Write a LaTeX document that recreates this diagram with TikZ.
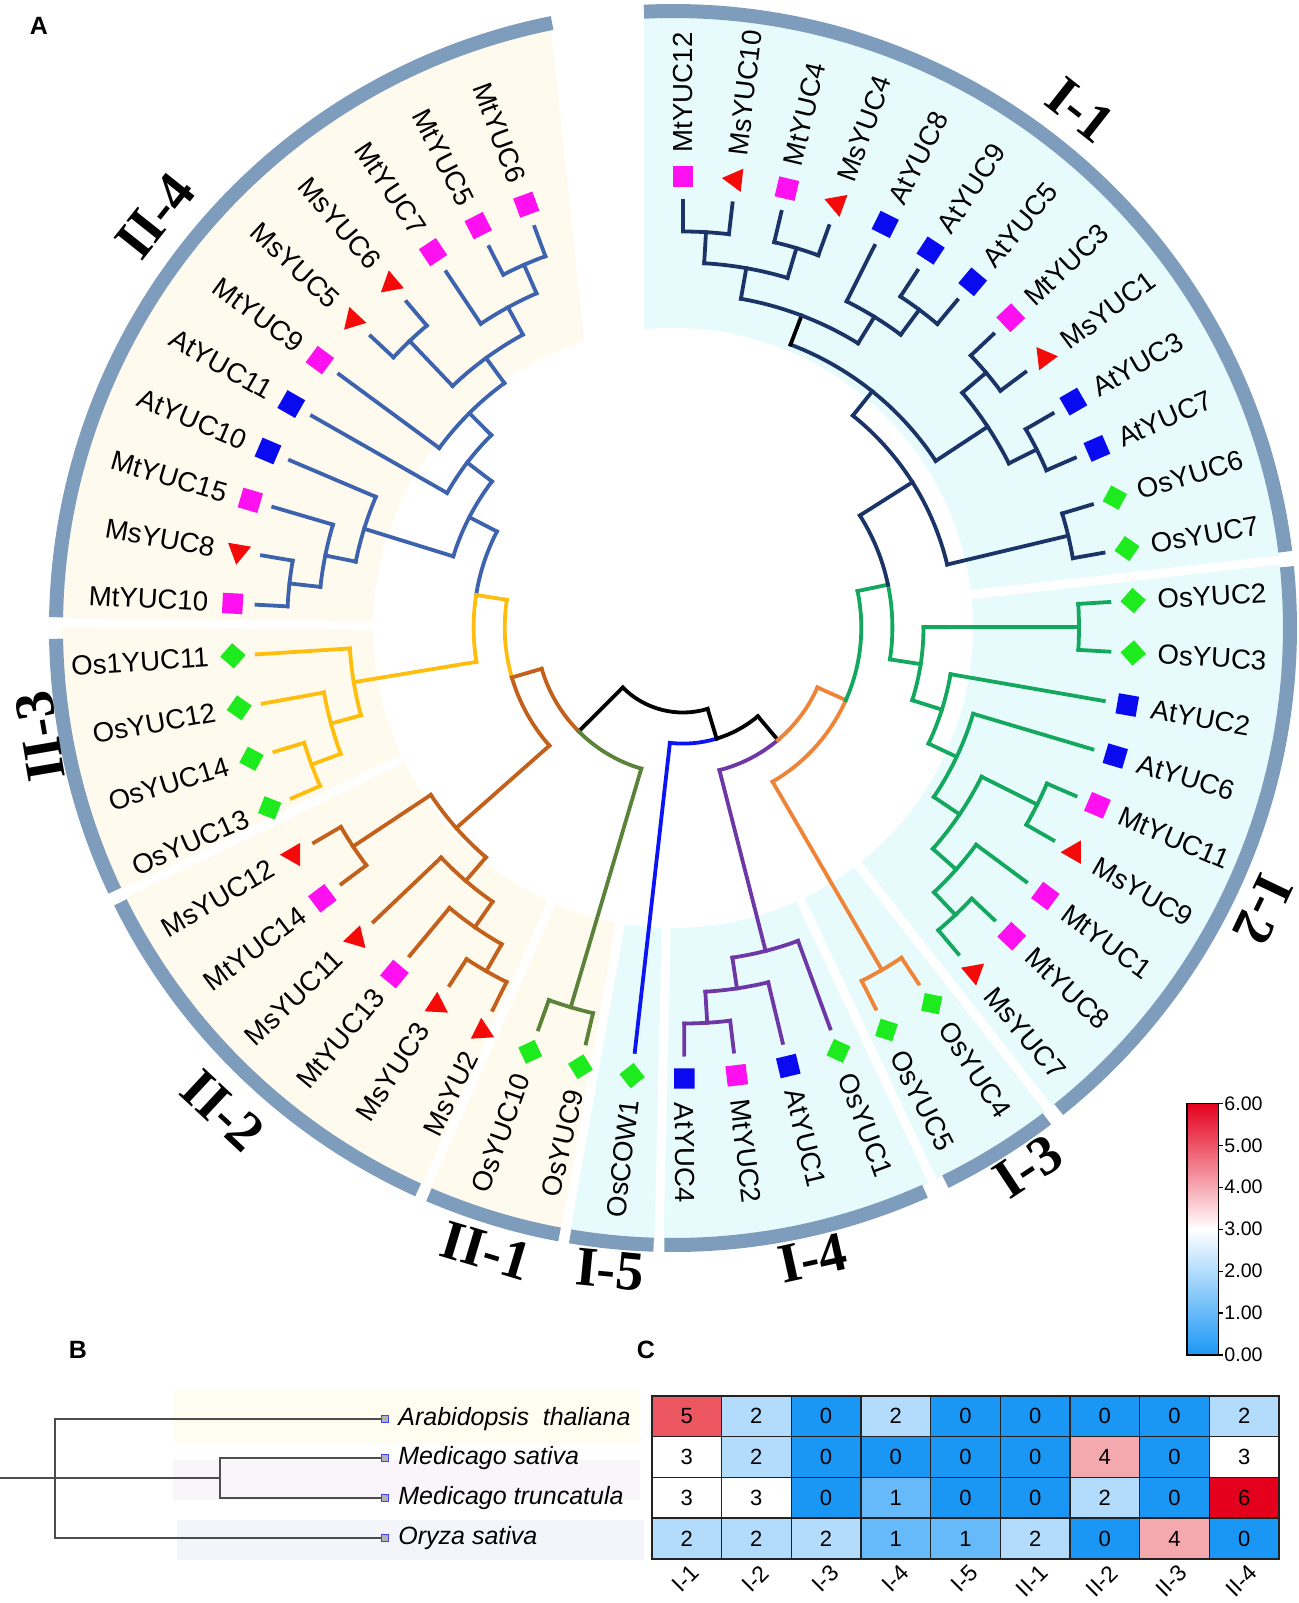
\documentclass[tikz,border=0pt]{standalone}
\usepackage{fontspec}
\setmainfont{Liberation Sans}
\newfontfamily\cladeserif{Liberation Serif}
\usetikzlibrary{shapes.geometric}

% clade colours
\definecolor{col11}{HTML}{1B3468}
\definecolor{col12}{HTML}{14A85E}
\definecolor{col13}{HTML}{EE8437}
\definecolor{col14}{HTML}{6E37A6}
\definecolor{col15}{HTML}{0A14F5}
\definecolor{col21}{HTML}{5A8238}
\definecolor{col22}{HTML}{C2601C}
\definecolor{col23}{HTML}{FFBE0D}
\definecolor{col24}{HTML}{3D62AE}
\definecolor{bgI}{HTML}{E8FBFC}
\definecolor{bgII}{HTML}{FFFAEE}
\definecolor{ringc}{HTML}{7E9CBB}
% markers
\definecolor{mtcol}{HTML}{FF10F0}
\definecolor{atcol}{HTML}{0A0AF0}
\definecolor{oscol}{HTML}{1EEB1E}
\definecolor{mscol}{HTML}{F50A0A}
% heatmap
\definecolor{hm0}{HTML}{1A97F5}
\definecolor{hm1}{HTML}{66BAF9}
\definecolor{hm2}{HTML}{B3DCFC}
\definecolor{hm3}{HTML}{FFFFFF}
\definecolor{hm4}{HTML}{F4A9AF}
\definecolor{hm5}{HTML}{EB5661}
\definecolor{hm6}{HTML}{E4001D}
\definecolor{hmline}{HTML}{222222}
\definecolor{sptree}{HTML}{4D4D4D}
\definecolor{bandAt}{HTML}{FFFDF0}
\definecolor{bandMed}{HTML}{F9F5FB}
\definecolor{bandOs}{HTML}{F4F5FA}

\tikzstyle{branch} = [line width=1.9pt, line cap=rect]
\tikzstyle{ringseg} = [ringc, line width=7pt]
\tikzstyle{gapline} = [white, line width=4.5pt]
\tikzstyle{mk} = [inner sep=0pt, outer sep=0pt]
\tikzstyle{mtm} = [mk, rectangle, fill=mtcol, minimum size=10.2pt]
\tikzstyle{atm} = [mk, rectangle, fill=atcol, minimum size=10.2pt]
\tikzstyle{osm} = [mk, rectangle, fill=oscol, minimum size=9pt, rotate=45]
\tikzstyle{msm} = [mk, regular polygon, regular polygon sides=3, fill=mscol, minimum size=13.5pt]
\tikzstyle{leaflab} = [inner sep=0pt, font=\fontsize{13.8}{16}\selectfont]
\tikzstyle{cladelab} = [inner sep=0pt, font=\cladeserif\bfseries\fontsize{28}{30}\selectfont]
\tikzstyle{panellab} = [inner sep=0pt, font=\bfseries\fontsize{12.5}{14}\selectfont]
\tikzstyle{splab} = [inner sep=0pt, font=\itshape\fontsize{12.5}{14}\selectfont]
\tikzstyle{sptip} = [draw=blue!75, fill=gray!60, line width=0.5pt, minimum size=3.4pt, inner sep=0pt]
\tikzstyle{hmnum} = [inner sep=0pt, font=\fontsize{11}{12}\selectfont]
\tikzstyle{collab} = [inner sep=0pt, font=\fontsize{11.5}{12}\selectfont]
\tikzstyle{cbl} = [inner sep=0pt, font=\fontsize{9.8}{11}\selectfont]

% radius of a tree level (tips at level 11)
\newcommand{\lvl}[1]{85+31.1*#1}
\newcommand{\brstem}[4]{\draw[branch,#1] (#2:{\lvl{#3}}) -- (#2:{\lvl{#4}});}
\newcommand{\brarc}[4]{\draw[branch,#1] (#2:{\lvl{#4}}) arc[start angle=#2, end angle=#3, radius={(\lvl{#4})*0.5pt}];}
% colour, parent level, level, angle, first child angle, last child angle
\newcommand{\brnode}[6]{\brstem{#1}{#4}{#2}{#3}\brarc{#1}{#5}{#6}{#3}}
% colour, parent level, angle
\newcommand{\brleaf}[3]{\brstem{#1}{#3}{#2}{11}}

\begin{document}
\begin{tikzpicture}[x=0.5pt, y=0.5pt]
\useasboundingbox (0,0) rectangle (1299,-1603);

\node[panellab] (pA) at (39,-26) {A};

% backgrounds, ring and clade names
\begin{scope}[shift={(673,-628)}]
  \fill[bgI] (92.72:611) arc[start angle=92.72, end angle=6.4, radius=305.5pt] -- (6.4:300)
    arc[start angle=6.4, end angle=95.55, radius=150pt] -- cycle;
  \fill[bgI] (6.4:611) arc[start angle=6.4, end angle=-100.1, radius=305.5pt] -- (-100.1:300)
    arc[start angle=-100.1, end angle=6.4, radius=150pt] -- cycle;
  \fill[bgII] (-100.1:611) arc[start angle=-100.1, end angle=-180.5, radius=305.5pt] -- (-180.5:300)
    arc[start angle=-180.5, end angle=-100.1, radius=150pt] -- cycle;
  \fill[bgII] (101.5:611) arc[start angle=101.5, end angle=179.5, radius=305.5pt] -- (179.5:300)
    arc[start angle=179.5, end angle=107.2, radius=150pt] -- cycle;
  \foreach \g in {6.4,-52,-64.85,-91.3,-100.1,-113.85,-154.2,-180.5}
    \draw[gapline] (\g:296) -- (\g:613);
  \foreach \a/\b in {92.7/7.1, 5.7/-51.3, -52.7/-63.8, -65.9/-90.8, -91.8/-99.6,
      -100.6/-113.3, -114.4/-153.6, -154.8/-179.0, -181.0/-258.7}
    \draw[ringseg] (\a:617) arc[start angle=\a, end angle=\b, radius=308.5pt];
  \node[cladelab, rotate=-38.2] (kI1) at (51.8:659) {I-1};
  \node[cladelab, rotate=-115.5] (kI2) at (-25.5:654) {I-2};
  \node[cladelab, rotate=33.4] (kI3) at (-56.6:645) {I-3};
  \node[cladelab, rotate=12.5] (kI4) at (-77.5:645) {I-4};
  \node[cladelab, rotate=-5.6] (kI5) at (-95.6:645) {I-5};
  \node[cladelab, rotate=-16.7] (kII1) at (-106.7:650) {II-1};
  \node[cladelab, rotate=-43] (kII2) at (-133:660) {II-2};
  \node[cladelab, rotate=99.7] (kII3) at (189.7:642) {II-3};
  \node[cladelab, rotate=51.5] (kII4) at (141.5:662) {II-4};
\end{scope}

% tree
\begin{scope}[shift={(683,-627.5)}]
  % root and backbone
  \brarc{black}{-135.1}{-73.165}{0}
  \brstem{black}{-135.1}{0}{2}
  \brarc{col22}{-163.73}{-135.1}{2}
  \brarc{col21}{-135.1}{-106.47}{2}
  \brstem{col22}{-163.73}{2}{3}
  \brarc{col23}{-188.935}{-163.73}{3}
  \brarc{col22}{-163.73}{-138.52}{3}
  \brstem{col23}{-188.935}{3}{4}
  \brarc{col24}{-207.3}{-188.935}{4}
  \brarc{col23}{-188.935}{-170.57}{4}
  \brstem{black}{-73.165}{0}{1}
  \brarc{col15}{-96.48}{-73.165}{1}
  \brarc{black}{-73.165}{-49.85}{1}
  \brleaf{col15}{1}{-96.48}
  \brstem{black}{-49.85}{1}{2}
  \brarc{col14}{-75.67}{-49.85}{2}
  \brarc{col13}{-49.85}{-24.03}{2}
  \brstem{col13}{-24.03}{2}{3}
  \brarc{col13}{-59.85}{-24.03}{3}
  \brarc{col12}{-24.03}{11.80}{3}
  \brstem{col12}{11.80}{3}{4}
  \brarc{col12}{-8.755}{11.80}{4}
  \brarc{col11}{11.80}{32.35}{4}
  % I-1
  \brnode{col11}{4}{6}{32.35}{51.29}{13.41}
  \brnode{col11}{6}{7}{51.29}{69.19}{33.39}
  \brstem{black}{69.19}{7}{8}
  \brarc{col11}{80.01}{58.365}{8}
  \brnode{col11}{8}{9}{80.01}{86.67}{73.35}
  \brnode{col11}{9}{10}{86.67}{90}{83.34}
  \brleaf{col11}{10}{90} \brleaf{col11}{10}{83.34}
  \brnode{col11}{9}{10}{73.35}{76.68}{70.02}
  \brleaf{col11}{10}{76.68} \brleaf{col11}{10}{70.02}
  \brnode{col11}{8}{9}{58.365}{63.36}{53.37}
  \brleaf{col11}{9}{63.36}
  \brnode{col11}{9}{10}{53.37}{56.70}{50.04}
  \brleaf{col11}{10}{56.70} \brleaf{col11}{10}{50.04}
  \brnode{col11}{7}{9}{33.39}{40.05}{26.73}
  \brnode{col11}{9}{10}{40.05}{43.38}{36.72}
  \brleaf{col11}{10}{43.38} \brleaf{col11}{10}{36.72}
  \brnode{col11}{9}{10}{26.73}{30.06}{23.40}
  \brleaf{col11}{10}{30.06} \brleaf{col11}{10}{23.40}
  \brnode{col11}{6}{10}{13.41}{16.74}{10.08}
  \brleaf{col11}{10}{16.74} \brleaf{col11}{10}{10.08}
  % I-2
  \brnode{col12}{4}{5}{-8.755}{0.09}{-17.6}
  \brnode{col12}{5}{10}{0.09}{3.42}{-3.24}
  \brleaf{col12}{10}{3.42} \brleaf{col12}{10}{-3.24}
  \brnode{col12}{5}{6}{-17.6}{-9.90}{-25.3}
  \brleaf{col12}{6}{-9.90}
  \brnode{col12}{6}{7}{-25.3}{-16.56}{-34.04}
  \brleaf{col12}{7}{-16.56}
  \brnode{col12}{7}{8}{-34.04}{-26.55}{-41.535}
  \brnode{col12}{8}{10}{-26.55}{-23.22}{-29.88}
  \brleaf{col12}{10}{-23.22} \brleaf{col12}{10}{-29.88}
  \brnode{col12}{8}{9}{-41.535}{-36.54}{-46.53}
  \brleaf{col12}{9}{-36.54}
  \brnode{col12}{9}{10}{-46.53}{-43.20}{-49.86}
  \brleaf{col12}{10}{-43.20} \brleaf{col12}{10}{-49.86}
  % I-3
  \brnode{col13}{3}{10}{-59.85}{-56.52}{-63.18}
  \brleaf{col13}{10}{-56.52} \brleaf{col13}{10}{-63.18}
  % I-4
  \brnode{col14}{2}{8}{-75.67}{-69.84}{-81.495}
  \brleaf{col14}{8}{-69.84}
  \brnode{col14}{8}{9}{-81.495}{-76.50}{-86.49}
  \brleaf{col14}{9}{-76.50}
  \brnode{col14}{9}{10}{-86.49}{-83.16}{-89.82}
  \brleaf{col14}{10}{-83.16} \brleaf{col14}{10}{-89.82}
  % II-1
  \brnode{col21}{2}{10}{-106.47}{-103.14}{-109.80}
  \brleaf{col21}{10}{-103.14} \brleaf{col21}{10}{-109.80}
  % II-2
  \brnode{col22}{3}{7}{-138.52}{-130.61}{-146.43}
  \brnode{col22}{7}{10}{-146.43}{-143.10}{-149.76}
  \brleaf{col22}{10}{-143.10} \brleaf{col22}{10}{-149.76}
  \brnode{col22}{7}{8}{-130.61}{-124.785}{-136.44}
  \brleaf{col22}{8}{-136.44}
  \brnode{col22}{8}{9}{-124.785}{-119.79}{-129.78}
  \brleaf{col22}{9}{-129.78}
  \brnode{col22}{9}{10}{-119.79}{-116.46}{-123.12}
  \brleaf{col22}{10}{-116.46} \brleaf{col22}{10}{-123.12}
  % II-3
  \brnode{col23}{4}{8}{-170.57}{-164.745}{-176.40}
  \brleaf{col23}{8}{-176.40}
  \brnode{col23}{8}{9}{-164.745}{-159.75}{-169.74}
  \brleaf{col23}{9}{-169.74}
  \brnode{col23}{9}{10}{-159.75}{-156.42}{-163.08}
  \brleaf{col23}{10}{-156.42} \brleaf{col23}{10}{-163.08}
  % II-4
  \brnode{col24}{4}{5}{-207.3}{-197.21}{-217.4}
  \brnode{col24}{5}{8}{-197.21}{-191.385}{-203.04}
  \brleaf{col24}{8}{-203.04}
  \brnode{col24}{8}{9}{-191.385}{-186.39}{-196.38}
  \brleaf{col24}{9}{-196.38}
  \brnode{col24}{9}{10}{-186.39}{-183.06}{-189.72}
  \brleaf{col24}{10}{-183.06} \brleaf{col24}{10}{-189.72}
  \brnode{col24}{5}{6}{-217.4}{-209.70}{-225.1}
  \brleaf{col24}{6}{-209.70}
  \brnode{col24}{6}{7}{-225.1}{-216.36}{-233.84}
  \brleaf{col24}{7}{-216.36}
  \brnode{col24}{7}{8}{-233.84}{-226.35}{-241.335}
  \brnode{col24}{8}{10}{-226.35}{-223.02}{-229.68}
  \brleaf{col24}{10}{-223.02} \brleaf{col24}{10}{-229.68}
  \brnode{col24}{8}{9}{-241.335}{-236.34}{-246.33}
  \brleaf{col24}{9}{-236.34}
  \brnode{col24}{9}{10}{-246.33}{-243.00}{-249.66}
  \brleaf{col24}{10}{-243.00} \brleaf{col24}{10}{-249.66}

  % leaf markers and names
  \foreach \nm/\ty [count=\i from 0] in {MtYUC12/mtm, MsYUC10/msm, MtYUC4/mtm, MsYUC4/msm,
      AtYUC8/atm, AtYUC9/atm, AtYUC5/atm, MtYUC3/mtm, MsYUC1/msm, AtYUC3/atm, AtYUC7/atm,
      OsYUC6/osm, OsYUC7/osm, OsYUC2/osm, OsYUC3/osm, AtYUC2/atm, AtYUC6/atm, MtYUC11/mtm,
      MsYUC9/msm, MtYUC1/mtm, MtYUC8/mtm, MsYUC7/msm, OsYUC4/osm, OsYUC5/osm, OsYUC1/osm,
      AtYUC1/atm, MtYUC2/mtm, AtYUC4/atm, OsCOW1/osm, OsYUC9/osm, OsYUC10/osm, MsYU2/msm,
      MsYUC3/msm, MtYUC13/mtm, MsYUC11/msm, MtYUC14/mtm, MsYUC12/msm, OsYUC13/osm,
      OsYUC14/osm, OsYUC12/osm, Os1YUC11/osm, MtYUC10/mtm, MsYUC8/msm, MtYUC15/mtm,
      AtYUC10/atm, AtYUC11/atm, MtYUC9/mtm, MsYUC5/msm, MsYUC6/msm, MtYUC7/mtm,
      MtYUC5/mtm, MtYUC6/mtm}{
    \pgfmathsetmacro\a{90-6.66*\i}
    \node[\ty, rotate=\a] (mk\i) at (\a:451) {};
    \ifnum\i<28
      \node[leaflab, anchor=west, rotate=\a] (lb\i) at (\a:475) {\nm};
    \else
      \node[leaflab, anchor=east, rotate=\a+180] (lb\i) at (\a:475) {\nm};
    \fi
  }
\end{scope}

% B: species tree
\node[panellab] (pB) at (78,-1350) {B};
\fill[bandAt] (172.6,-1390) rectangle (640,-1443.3);
\fill[bandMed] (172.6,-1460) rectangle (640,-1500);
\fill[bandOs] (176.8,-1520) rectangle (644,-1560);
\node[sptip] (tAt) at (385,-1419) {};
\node[sptip] (tMs) at (385,-1457.7) {};
\node[sptip] (tMt) at (385,-1498.3) {};
\node[sptip] (tOs) at (385,-1538.3) {};
\coordinate (bStart) at (0,-1478.3);
\coordinate (bRoot) at (54.7,-1478.3);
\coordinate (bMed) at (219.7,-1478.3);
\draw[sptree, line width=1pt] (bStart) -- (bMed);
\draw[sptree, line width=1pt] (tAt) -| (bRoot) |- (tOs);
\draw[sptree, line width=1pt] (tMs) -| (bMed) |- (tMt);
\node[splab, anchor=west] (nAt) at (398,-1419) {Arabidopsis\ \ thaliana};
\node[splab, anchor=west] (nMs) at (398,-1457.7) {Medicago sativa};
\node[splab, anchor=west] (nMt) at (398,-1498.3) {Medicago truncatula};
\node[splab, anchor=west] (nOs) at (398,-1538.3) {Oryza sativa};

% C: heatmap
\node[panellab] (pC) at (646,-1350) {C};
\foreach \row [count=\r from 0] in {{5,2,0,2,0,0,0,0,2},{3,2,0,0,0,0,4,0,3},
    {3,3,0,1,0,0,2,0,6},{2,2,2,1,1,2,0,4,0}}{
  \foreach \v [count=\c from 0] in \row{
    \filldraw[fill=hm\v, draw=hmline, line width=0.7pt]
      (651.8+69.7*\c, -1395.7-40.8*\r) rectangle ++(69.7,-40.8);
    \node[hmnum] (h\r\c) at (686.65+69.7*\c, -1416.1-40.8*\r) {\v};
  }
}
\draw[hmline, line width=1pt] (651.8,-1395.7) rectangle (1279,-1559);
\foreach \lab [count=\c from 0] in {I-1,I-2,I-3,I-4,I-5,II-1,II-2,II-3,II-4}
  \node[collab, rotate=45, anchor=east] (cl\c) at (695.65+69.7*\c, -1569) {\lab};

% colour scale
\shade[top color=hm6, bottom color=hm0, middle color=white] (1187,-1103.3) rectangle (1218.3,-1355);
\draw[line width=0.8pt] (1187,-1103.3) rectangle (1218.3,-1355);
\foreach \k in {0,...,6}{
  \draw[line width=0.6pt] (1218.3,-1355+41.95*\k) -- ++(4.5,0);
  \node[cbl, anchor=west] (cb\k) at (1224,-1355+41.95*\k) {\k.00};
}
\end{tikzpicture}
\end{document}
